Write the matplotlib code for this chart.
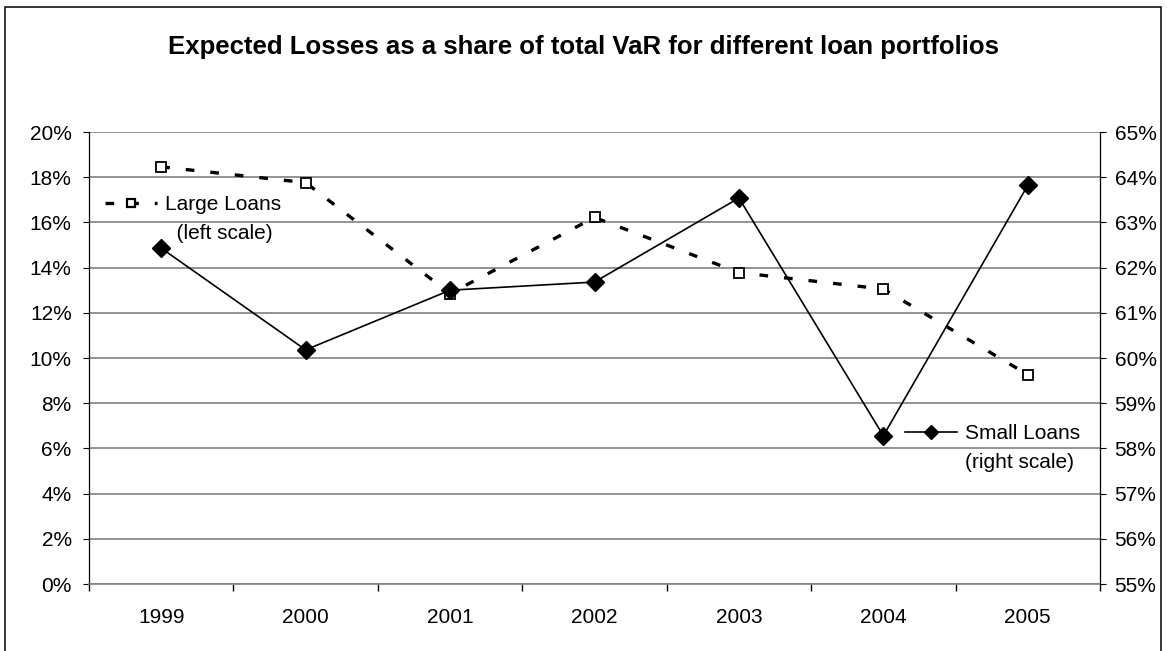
import matplotlib
matplotlib.use("Agg")
import matplotlib.pyplot as plt
from matplotlib.lines import Line2D
from matplotlib.patches import Rectangle
from matplotlib.ticker import FuncFormatter

# data
years = ["1999", "2000", "2001", "2002", "2003", "2004", "2005"]
large_loans = [18.46, 17.76, 12.85, 16.22, 13.78, 13.05, 9.26]   # % of VaR, left scale
small_loans = [62.43, 60.18, 61.50, 61.68, 63.54, 58.28, 63.82]  # % of VaR, right scale
left_ticks = [0, 2, 4, 6, 8, 10, 12, 14, 16, 18, 20]
right_ticks = [55, 56, 57, 58, 59, 60, 61, 62, 63, 64, 65]

title = "Expected Losses as a share of total VaR for different loan portfolios"

plt.rcParams["font.family"] = ["Liberation Sans", "DejaVu Sans"]

W, H = 1167, 651
fig = plt.figure(figsize=(W / 100, H / 100), dpi=100)
ax = fig.add_axes([89 / W, 1 - 584 / H, (1100 - 89) / W, (584 - 132) / H])
ax2 = ax.twinx()

pct = FuncFormatter(lambda v, _: f"{v:.0f}%")
grey = "#808080"

# ---------------------------------------------------------------------------
# series
# ---------------------------------------------------------------------------
x = list(range(len(years)))
ll_style = dict(color="black", lw=2.4, dashes=(2.6, 4.8),
                marker="s", ms=7, mfc="white", mec="black", mew=1.3)
sl_style = dict(color="black", lw=1.2, marker="D", ms=9, mfc="black", mec="black")

ax.plot(x, large_loans, zorder=3, **ll_style)
ax2.plot(x, small_loans, zorder=3, **sl_style)

# ---------------------------------------------------------------------------
# axes
# ---------------------------------------------------------------------------
ax.set_xlim(-0.5, len(years) - 0.5)
ax.set_ylim(left_ticks[0], left_ticks[-1])
ax2.set_ylim(right_ticks[0], right_ticks[-1])

ax.set_yticks(left_ticks)
ax2.set_yticks(right_ticks)
ax.yaxis.set_major_formatter(pct)
ax2.yaxis.set_major_formatter(pct)

ax.set_xticks([i - 0.5 for i in range(len(years) + 1)])
ax.set_xticks(x, labels=years, minor=True)
ax.tick_params(axis="x", which="major", length=5, width=1, labelbottom=False)
ax.tick_params(axis="x", which="minor", length=0, pad=17, labelsize=15)
ax.tick_params(axis="y", direction="out", length=4.5, width=0.8, pad=8, labelsize=15)
ax2.tick_params(axis="y", direction="out", length=4.5, width=0.8, pad=6, labelsize=15)

ax.yaxis.grid(True, color=grey, lw=1.2)
ax.set_axisbelow(True)

for a in (ax, ax2):
    a.spines["top"].set_visible(False)
ax.spines["right"].set_visible(False)
ax2.spines["left"].set_visible(False)
ax2.spines["bottom"].set_visible(False)
ax.spines["left"].set_linewidth(0.9)
ax2.spines["right"].set_linewidth(0.9)
ax.spines["bottom"].set_color(grey)
ax.spines["bottom"].set_linewidth(1.2)

# ---------------------------------------------------------------------------
# legends (two lines each, handle next to the first one)
# ---------------------------------------------------------------------------
blank = Line2D([], [], alpha=0)
leg_kw = dict(frameon=False, fontsize=15, handlelength=2.5, handletextpad=0.4,
              borderpad=0, borderaxespad=0, labelspacing=0.5,
              loc="upper left", bbox_transform=fig.transFigure)

ll_handle = Line2D([], [], **{**ll_style, "ms": 5.5, "mew": 1.6})
sl_handle = Line2D([], [], **{**sl_style, "ms": 7})

ax.legend([ll_handle, blank], ["Large Loans", "  (left scale)"],
          bbox_to_anchor=(105 / W, 1 - 195 / H), **leg_kw)
ax2.legend([sl_handle, blank], ["Small Loans", "(right scale)"],
           bbox_to_anchor=(905 / W, 1 - 424 / H), **leg_kw)

# ---------------------------------------------------------------------------
# title and outer frame
# ---------------------------------------------------------------------------
fig.text(0.5, 1 - 47 / H, title, ha="center", va="center",
         fontsize=18.5, fontweight="bold")
fig.add_artist(Rectangle((5 / W, -0.05), (1161 - 5) / W, 1.05 - 7 / H,
                         transform=fig.transFigure, fill=False,
                         ec="black", lw=1.1))

fig.savefig("out.png", dpi=100)
